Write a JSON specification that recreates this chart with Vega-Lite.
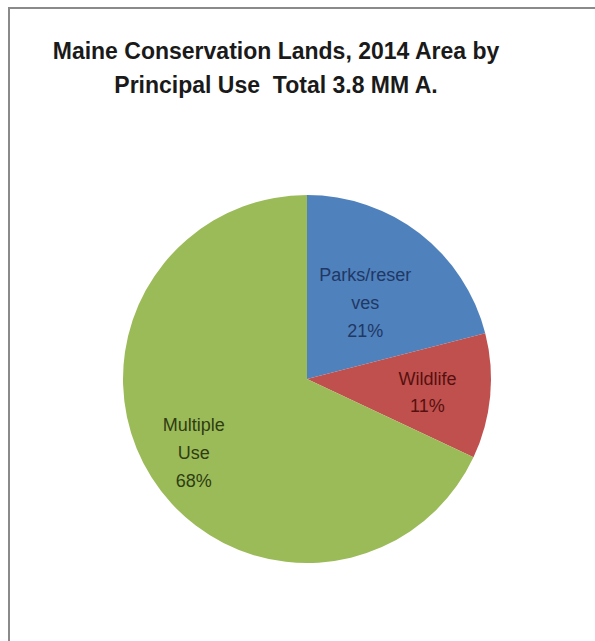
{
  "$schema": "https://vega.github.io/schema/vega-lite/v6.json",
  "width": 596,
  "height": 742,
  "autosize": "none",
  "padding": {"left": 9, "top": 8, "right": 0, "bottom": 0},
  "background": "white",
  "view": {"stroke": "#8a8a8a", "strokeWidth": 2},
  "config": {"view": {"stroke": "#8a8a8a", "strokeWidth": 2}},
  "title": {
    "text": ["Maine Conservation Lands, 2014 Area by", "Principal Use\u00a0 Total 3.8 MM A."],
    "font": "Liberation Sans Narrow, Liberation Sans, sans-serif",
    "fontSize": 23,
    "fontWeight": "bold",
    "color": "#1a1a1a",
    "anchor": "middle",
    "frame": "group",
    "baseline": "top",
    "lineHeight": 34,
    "offset": 0,
    "dx": -31,
    "dy": 90
  },
  "data": {
    "values": [
      {"cat": "Parks/reserves", "pct": 21, "ord": 1, "label": "Parks/reser\nves\n21%"},
      {"cat": "Wildlife", "pct": 11, "ord": 2, "label": "Wildlife\n11%"},
      {"cat": "Multiple Use", "pct": 68, "ord": 3, "label": "Multiple\nUse\n68%"}
    ]
  },
  "encoding": {
    "theta": {"field": "pct", "type": "quantitative", "stack": true},
    "order": {"field": "ord", "type": "quantitative"}
  },
  "layer": [
    {
      "mark": {"type": "arc", "outerRadius": 184},
      "encoding": {
        "color": {
          "field": "cat",
          "type": "nominal",
          "scale": {"domain": ["Parks/reserves", "Wildlife", "Multiple Use"], "range": ["#4f81bd", "#c0504d", "#9bbb59"]},
          "legend": null
        }
      }
    },
    {
      "mark": {"type": "text", "radius": 95, "dy": -28, "lineBreak": "\n", "lineHeight": 28, "fontSize": 18, "font": "Liberation Sans Narrow, Liberation Sans, sans-serif", "color": "#1f3864", "align": "center", "baseline": "middle"},
      "encoding": {
        "text": {"condition": {"test": "datum.cat === 'Parks/reserves'", "field": "label"}, "value": ""}
      }
    },
    {
      "mark": {"type": "text", "radius": 121, "dy": -10, "lineBreak": "\n", "lineHeight": 27, "fontSize": 18, "font": "Liberation Sans Narrow, Liberation Sans, sans-serif", "color": "#561010", "align": "center", "baseline": "middle"},
      "encoding": {
        "text": {"condition": {"test": "datum.cat === 'Wildlife'", "field": "label"}, "value": ""}
      }
    },
    {
      "mark": {"type": "text", "radius": 134, "dy": -25, "lineBreak": "\n", "lineHeight": 28, "fontSize": 18, "font": "Liberation Sans Narrow, Liberation Sans, sans-serif", "color": "#2f3d12", "align": "center", "baseline": "middle"},
      "encoding": {
        "text": {"condition": {"test": "datum.cat === 'Multiple Use'", "field": "label"}, "value": ""}
      }
    }
  ]
}
